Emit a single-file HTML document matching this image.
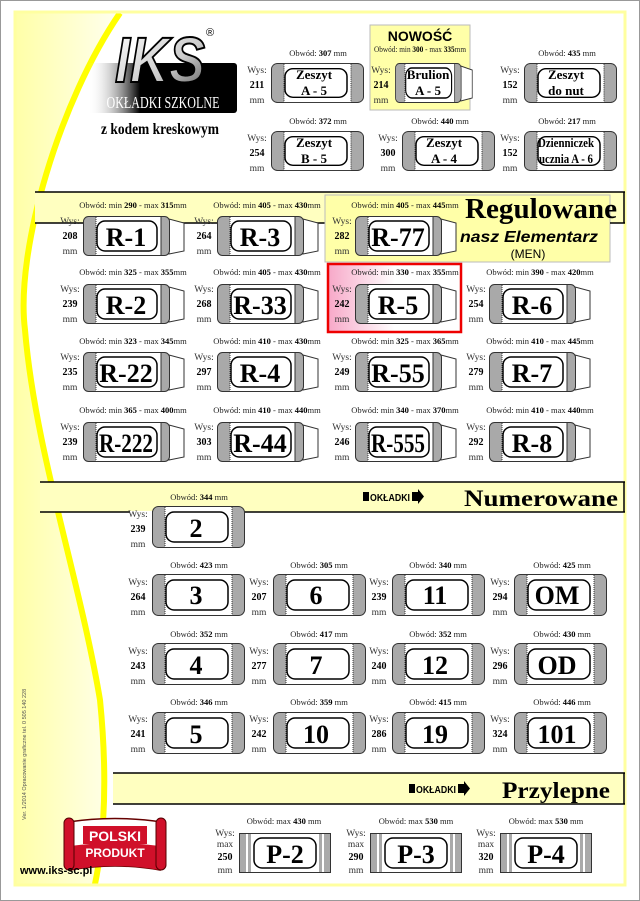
<!DOCTYPE html>
<html><head><meta charset="utf-8"><style>
html,body{margin:0;padding:0;background:#fff}
svg{display:block}
.o{font-family:"Liberation Serif",serif;font-size:8.5px;fill:#222;text-anchor:middle}
.o tspan.b{font-weight:bold;fill:#000}
.w{font-family:"Liberation Serif",serif;font-size:9.5px;fill:#333;text-anchor:middle}
.wb{font-family:"Liberation Serif",serif;font-size:10px;font-weight:bold;fill:#000;text-anchor:middle}
.big{font-family:"Liberation Serif",serif;font-size:26px;font-weight:bold;fill:#000;text-anchor:middle}
.two{font-family:"Liberation Serif",serif;font-size:13px;font-weight:bold;fill:#000;text-anchor:middle}
.hd{font-family:"Liberation Serif",serif;font-weight:bold;fill:#000}
</style></head><body>
<svg width="640" height="901" viewBox="0 0 640 901" xmlns="http://www.w3.org/2000/svg">
<defs>
<linearGradient id="ly" x1="0" y1="0" x2="1" y2="0"><stop offset="0" stop-color="#ffffa8"/><stop offset="1" stop-color="#fffff0"/></linearGradient>
<linearGradient id="lg" x1="0" y1="0" x2="1" y2="0"><stop offset="0" stop-color="#fff" stop-opacity="0"/><stop offset="0.35" stop-color="#000"/><stop offset="1" stop-color="#000"/></linearGradient>
<linearGradient id="lw" x1="0" y1="0" x2="1" y2="1"><stop offset="0" stop-color="#fff"/><stop offset="0.6" stop-color="#ccc"/><stop offset="1" stop-color="#555"/></linearGradient>
<linearGradient id="pk" x1="0" y1="0" x2="1" y2="0"><stop offset="0" stop-color="#f7a8c8"/><stop offset="0.5" stop-color="#fff"/></linearGradient>
<symbol id="rb" viewBox="0 0 102 40" width="102" height="40" preserveAspectRatio="none">
<polygon points="86,3 101,7 101,35 86,38" fill="#fff" stroke="#333" stroke-width="1"/>
<rect x="0.5" y="0.5" width="86" height="39" rx="5" fill="#a9a9a9" stroke="#333"/>
<rect x="13" y="1" width="65" height="38" fill="#fff"/>
<line x1="13" y1="1" x2="13" y2="39" stroke="#333" stroke-dasharray="1 1"/>
<line x1="78" y1="1" x2="78" y2="39" stroke="#333"/>
<rect x="14" y="5" width="60" height="30" rx="8" fill="none" stroke="#000" stroke-width="1.5"/>
</symbol>
<symbol id="nb" viewBox="0 0 93 42" width="93" height="42" preserveAspectRatio="none">
<rect x="0.5" y="0.5" width="92" height="41" rx="6" fill="#a9a9a9" stroke="#333"/>
<rect x="13" y="1" width="67" height="40" fill="#fff"/>
<line x1="13" y1="1" x2="13" y2="41" stroke="#333" stroke-dasharray="1 1"/>
<line x1="80" y1="1" x2="80" y2="41" stroke="#333" stroke-dasharray="1 1"/>
<rect x="14" y="6" width="62" height="30" rx="8" fill="none" stroke="#000" stroke-width="1.5"/>
</symbol>
<symbol id="pb" viewBox="0 0 92 40" width="92" height="40" preserveAspectRatio="none">
<rect x="0.5" y="0.5" width="91" height="39" fill="#fff" stroke="#333"/>
<rect x="1" y="1" width="6" height="38" fill="#aaa"/><rect x="9" y="1" width="3" height="38" fill="#aaa"/>
<rect x="80" y="1" width="3" height="38" fill="#aaa"/><rect x="85" y="1" width="6" height="38" fill="#aaa"/>
<rect x="15" y="5" width="62" height="30" rx="8" fill="none" stroke="#000" stroke-width="1.5"/>
</symbol>
</defs>
<rect x="0.5" y="0.5" width="639" height="900" fill="#fff" stroke="#999"/>
<path d="M16,13 L120,13 C60,100 15,250 25,330 C35,450 80,580 100,700 C110,800 100,860 95,884 L16,884 Z" fill="url(#ly)"/>
<path d="M120,13 C60,100 15,250 25,330 C35,450 80,580 100,700 C110,800 100,860 95,884" fill="none" stroke="#ffff00" stroke-width="6"/>
<rect x="15" y="12" width="610" height="873" fill="none" stroke="#ffffa0" stroke-width="3"/>

<!-- logo -->
<rect x="88" y="63" width="149" height="50" rx="3" fill="url(#lg)"/>
<text x="160" y="82" font-family="Liberation Sans,sans-serif" font-weight="bold" font-size="64" font-style="italic" style="fill:url(#lw);stroke:#000;stroke-width:2" text-anchor="middle" textLength="90" lengthAdjust="spacingAndGlyphs">IKS</text>
<text x="206" y="36" font-family="Liberation Sans,sans-serif" font-size="11" fill="#000">®</text>
<text x="163" y="108" font-family="Liberation Serif,serif" font-size="17" fill="#fff" text-anchor="middle" textLength="113" lengthAdjust="spacingAndGlyphs">OKŁADKI SZKOLNE</text>
<text x="160" y="134" class="hd" font-size="16" text-anchor="middle" textLength="118" lengthAdjust="spacingAndGlyphs">z kodem kreskowym</text>

<rect x="370" y="25" width="100" height="85" fill="#ffffa8" stroke="#bbb"/>
<text x="420" y="41" font-family="Liberation Sans,sans-serif" font-weight="bold" font-size="14" text-anchor="middle">NOWOŚĆ</text>

<text class="o" x="318" y="56">Obwód: <tspan class="b">307</tspan> mm</text>
<text class="w" x="257" y="73">Wys:</text><text class="wb" x="257" y="88">211</text><text class="w" x="257" y="103">mm</text>
<use href="#nb" x="271" y="63" width="93" height="40"/>
<text class="two" x="314" y="79">Zeszyt</text><text class="two" x="314" y="95">A - 5</text>

<text class="o" x="420" y="52" textLength="92" lengthAdjust="spacingAndGlyphs">Obwód: min <tspan class="b">300</tspan> - max <tspan class="b">335</tspan>mm</text>
<text class="w" x="381" y="73">Wys:</text><text class="wb" x="381" y="88">214</text><text class="w" x="381" y="103">mm</text>
<use href="#rb" x="395" y="63" width="78" height="40"/>
<text class="two" x="428" y="79">Brulion</text><text class="two" x="428" y="95">A - 5</text>

<text class="o" x="567" y="56">Obwód: <tspan class="b">435</tspan> mm</text>
<text class="w" x="510" y="73">Wys:</text><text class="wb" x="510" y="88">152</text><text class="w" x="510" y="103">mm</text>
<use href="#nb" x="524" y="63" width="93" height="40"/>
<text class="two" x="566" y="79">Zeszyt</text><text class="two" x="566" y="95">do nut</text>

<text class="o" x="318" y="124">Obwód: <tspan class="b">372</tspan> mm</text>
<text class="w" x="257" y="141">Wys:</text><text class="wb" x="257" y="156">254</text><text class="w" x="257" y="171">mm</text>
<use href="#nb" x="271" y="131" width="93" height="40"/>
<text class="two" x="314" y="147">Zeszyt</text><text class="two" x="314" y="163">B - 5</text>

<text class="o" x="440" y="124">Obwód: <tspan class="b">440</tspan> mm</text>
<text class="w" x="388" y="141">Wys:</text><text class="wb" x="388" y="156">300</text><text class="w" x="388" y="171">mm</text>
<use href="#nb" x="402" y="131" width="93" height="40"/>
<text class="two" x="444" y="147">Zeszyt</text><text class="two" x="444" y="163">A - 4</text>

<text class="o" x="567" y="124">Obwód: <tspan class="b">217</tspan> mm</text>
<text class="w" x="510" y="141">Wys:</text><text class="wb" x="510" y="156">152</text><text class="w" x="510" y="171">mm</text>
<use href="#nb" x="524" y="131" width="93" height="40"/>
<text class="two" x="566" y="147" font-size="11" textLength="56" lengthAdjust="spacingAndGlyphs">Dzienniczek</text><text class="two" x="566" y="163" font-size="11" textLength="54" lengthAdjust="spacingAndGlyphs">ucznia A - 6</text>

<rect x="35" y="192" width="590" height="31" fill="#ffffc0"/>
<line x1="35" y1="192" x2="625" y2="192" stroke="#000" stroke-width="1.5"/>
<line x1="35" y1="223" x2="326" y2="223" stroke="#000" stroke-width="1.5"/>
<rect x="325" y="195" width="285" height="67" fill="#ffffa8" stroke="#bbb"/>
<line x1="610" y1="223" x2="625" y2="223" stroke="#000" stroke-width="1.5"/>
<line x1="624" y1="192" x2="624" y2="223" stroke="#000" stroke-width="1.5"/>
<text x="465" y="218" class="hd" font-size="29" textLength="152" lengthAdjust="spacingAndGlyphs">Regulowane</text>
<text x="460" y="242" font-family="Liberation Sans,sans-serif" font-weight="bold" font-style="italic" font-size="16" textLength="138" lengthAdjust="spacingAndGlyphs">nasz Elementarz</text>
<text x="528" y="258" font-family="Liberation Sans,sans-serif" font-size="12" text-anchor="middle">(MEN)</text>

<rect x="328" y="264" width="133" height="68" fill="url(#pk)" stroke="#e00" stroke-width="2.5"/>

<g>
<text class="o" x="133" y="208">Obwód: min <tspan class="b">290</tspan> - max <tspan class="b">315</tspan>mm</text>
<text class="w" x="70" y="224">Wys:</text><text class="wb" x="70" y="239">208</text><text class="w" x="70" y="254">mm</text>
<use href="#rb" x="83" y="216"/><text class="big" x="126" y="246">R-1</text>

<text class="o" x="267" y="208">Obwód: min <tspan class="b">405</tspan> - max <tspan class="b">430</tspan>mm</text>
<text class="w" x="204" y="224">Wys:</text><text class="wb" x="204" y="239">264</text><text class="w" x="204" y="254">mm</text>
<use href="#rb" x="217" y="216"/><text class="big" x="260" y="246">R-3</text>

<text class="o" x="405" y="208">Obwód: min <tspan class="b">405</tspan> - max <tspan class="b">445</tspan>mm</text>
<text class="w" x="342" y="224">Wys:</text><text class="wb" x="342" y="239">282</text><text class="w" x="342" y="254">mm</text>
<use href="#rb" x="355" y="216"/><text class="big" x="398" y="246">R-77</text>

<text class="o" x="133" y="275">Obwód: min <tspan class="b">325</tspan> - max <tspan class="b">355</tspan>mm</text>
<text class="w" x="70" y="292">Wys:</text><text class="wb" x="70" y="307">239</text><text class="w" x="70" y="322">mm</text>
<use href="#rb" x="83" y="284"/><text class="big" x="126" y="314">R-2</text>

<text class="o" x="267" y="275">Obwód: min <tspan class="b">405</tspan> - max <tspan class="b">430</tspan>mm</text>
<text class="w" x="204" y="292">Wys:</text><text class="wb" x="204" y="307">268</text><text class="w" x="204" y="322">mm</text>
<use href="#rb" x="217" y="284"/><text class="big" x="260" y="314">R-33</text>

<text class="o" x="405" y="275">Obwód: min <tspan class="b">330</tspan> - max <tspan class="b">355</tspan>mm</text>
<text class="w" x="342" y="292">Wys:</text><text class="wb" x="342" y="307">242</text><text class="w" x="342" y="322">mm</text>
<use href="#rb" x="355" y="284"/><text class="big" x="398" y="314">R-5</text>

<text class="o" x="540" y="275">Obwód: min <tspan class="b">390</tspan> - max <tspan class="b">420</tspan>mm</text>
<text class="w" x="476" y="292">Wys:</text><text class="wb" x="476" y="307">254</text><text class="w" x="476" y="322">mm</text>
<use href="#rb" x="489" y="284"/><text class="big" x="532" y="314">R-6</text>

<text class="o" x="133" y="344">Obwód: min <tspan class="b">323</tspan> - max <tspan class="b">345</tspan>mm</text>
<text class="w" x="70" y="360">Wys:</text><text class="wb" x="70" y="375">235</text><text class="w" x="70" y="390">mm</text>
<use href="#rb" x="83" y="352"/><text class="big" x="126" y="382">R-22</text>

<text class="o" x="267" y="344">Obwód: min <tspan class="b">410</tspan> - max <tspan class="b">430</tspan>mm</text>
<text class="w" x="204" y="360">Wys:</text><text class="wb" x="204" y="375">297</text><text class="w" x="204" y="390">mm</text>
<use href="#rb" x="217" y="352"/><text class="big" x="260" y="382">R-4</text>

<text class="o" x="405" y="344">Obwód: min <tspan class="b">325</tspan> - max <tspan class="b">365</tspan>mm</text>
<text class="w" x="342" y="360">Wys:</text><text class="wb" x="342" y="375">249</text><text class="w" x="342" y="390">mm</text>
<use href="#rb" x="355" y="352"/><text class="big" x="398" y="382">R-55</text>

<text class="o" x="540" y="344">Obwód: min <tspan class="b">410</tspan> - max <tspan class="b">445</tspan>mm</text>
<text class="w" x="476" y="360">Wys:</text><text class="wb" x="476" y="375">279</text><text class="w" x="476" y="390">mm</text>
<use href="#rb" x="489" y="352"/><text class="big" x="532" y="382">R-7</text>

<text class="o" x="133" y="413">Obwód: min <tspan class="b">365</tspan> - max <tspan class="b">400</tspan>mm</text>
<text class="w" x="70" y="430">Wys:</text><text class="wb" x="70" y="445">239</text><text class="w" x="70" y="460">mm</text>
<use href="#rb" x="83" y="422"/><text class="big" x="126" y="452" textLength="54" lengthAdjust="spacingAndGlyphs">R-222</text>

<text class="o" x="267" y="413">Obwód: min <tspan class="b">410</tspan> - max <tspan class="b">440</tspan>mm</text>
<text class="w" x="204" y="430">Wys:</text><text class="wb" x="204" y="445">303</text><text class="w" x="204" y="460">mm</text>
<use href="#rb" x="217" y="422"/><text class="big" x="260" y="452">R-44</text>

<text class="o" x="405" y="413">Obwód: min <tspan class="b">340</tspan> - max <tspan class="b">370</tspan>mm</text>
<text class="w" x="342" y="430">Wys:</text><text class="wb" x="342" y="445">246</text><text class="w" x="342" y="460">mm</text>
<use href="#rb" x="355" y="422"/><text class="big" x="398" y="452" textLength="54" lengthAdjust="spacingAndGlyphs">R-555</text>

<text class="o" x="540" y="413">Obwód: min <tspan class="b">410</tspan> - max <tspan class="b">440</tspan>mm</text>
<text class="w" x="476" y="430">Wys:</text><text class="wb" x="476" y="445">292</text><text class="w" x="476" y="460">mm</text>
<use href="#rb" x="489" y="422"/><text class="big" x="532" y="452">R-8</text>
</g>

<rect x="40" y="482" width="585" height="30" fill="#ffffc0"/>
<line x1="40" y1="482" x2="625" y2="482" stroke="#000" stroke-width="1.5"/>
<line x1="40" y1="512" x2="625" y2="512" stroke="#000" stroke-width="1.5"/>
<line x1="624" y1="482" x2="624" y2="512" stroke="#000" stroke-width="1.5"/>
<rect x="363" y="492" width="6" height="9" fill="#000"/>
<text x="370" y="501" font-family="Liberation Sans,sans-serif" font-weight="bold" font-size="10" textLength="40" lengthAdjust="spacingAndGlyphs">OKŁADKI</text>
<path d="M412,492 h6 v-3 l6,7.5 l-6,7.5 v-3 h-6 z" fill="#000"/>
<text x="464" y="506" class="hd" font-size="23" textLength="154" lengthAdjust="spacingAndGlyphs">Numerowane</text>

<g>
<rect x="130" y="511" width="22" height="40" fill="#fff"/>
<text class="o" x="199" y="500">Obwód: <tspan class="b">344</tspan> mm</text>
<text class="w" x="138" y="517">Wys:</text><text class="wb" x="138" y="532">239</text><text class="w" x="138" y="547">mm</text>
<use href="#nb" x="152" y="506"/><text class="big" x="196" y="537">2</text>

<text class="o" x="199" y="568">Obwód: <tspan class="b">423</tspan> mm</text>
<text class="w" x="138" y="585">Wys:</text><text class="wb" x="138" y="600">264</text><text class="w" x="138" y="615">mm</text>
<use href="#nb" x="152" y="574"/><text class="big" x="196" y="604">3</text>

<text class="o" x="319" y="568">Obwód: <tspan class="b">305</tspan> mm</text>
<text class="w" x="259" y="585">Wys:</text><text class="wb" x="259" y="600">207</text><text class="w" x="259" y="615">mm</text>
<use href="#nb" x="273" y="574"/><text class="big" x="316" y="604">6</text>

<text class="o" x="438" y="568">Obwód: <tspan class="b">340</tspan> mm</text>
<text class="w" x="379" y="585">Wys:</text><text class="wb" x="379" y="600">239</text><text class="w" x="379" y="615">mm</text>
<use href="#nb" x="392" y="574"/><text class="big" x="435" y="604">11</text>

<text class="o" x="562" y="568">Obwód: <tspan class="b">425</tspan> mm</text>
<text class="w" x="500" y="585">Wys:</text><text class="wb" x="500" y="600">294</text><text class="w" x="500" y="615">mm</text>
<use href="#nb" x="514" y="574"/><text class="big" x="557" y="604">OM</text>

<text class="o" x="199" y="637">Obwód: <tspan class="b">352</tspan> mm</text>
<text class="w" x="138" y="654">Wys:</text><text class="wb" x="138" y="669">243</text><text class="w" x="138" y="684">mm</text>
<use href="#nb" x="152" y="643"/><text class="big" x="196" y="674">4</text>

<text class="o" x="319" y="637">Obwód: <tspan class="b">417</tspan> mm</text>
<text class="w" x="259" y="654">Wys:</text><text class="wb" x="259" y="669">277</text><text class="w" x="259" y="684">mm</text>
<use href="#nb" x="273" y="643"/><text class="big" x="316" y="674">7</text>

<text class="o" x="438" y="637">Obwód: <tspan class="b">352</tspan> mm</text>
<text class="w" x="379" y="654">Wys:</text><text class="wb" x="379" y="669">240</text><text class="w" x="379" y="684">mm</text>
<use href="#nb" x="392" y="643"/><text class="big" x="435" y="674">12</text>

<text class="o" x="562" y="637">Obwód: <tspan class="b">430</tspan> mm</text>
<text class="w" x="500" y="654">Wys:</text><text class="wb" x="500" y="669">296</text><text class="w" x="500" y="684">mm</text>
<use href="#nb" x="514" y="643"/><text class="big" x="557" y="674">OD</text>

<text class="o" x="199" y="705">Obwód: <tspan class="b">346</tspan> mm</text>
<text class="w" x="138" y="722">Wys:</text><text class="wb" x="138" y="737">241</text><text class="w" x="138" y="752">mm</text>
<use href="#nb" x="152" y="712"/><text class="big" x="196" y="743">5</text>

<text class="o" x="319" y="705">Obwód: <tspan class="b">359</tspan> mm</text>
<text class="w" x="259" y="722">Wys:</text><text class="wb" x="259" y="737">242</text><text class="w" x="259" y="752">mm</text>
<use href="#nb" x="273" y="712"/><text class="big" x="316" y="743">10</text>

<text class="o" x="438" y="705">Obwód: <tspan class="b">415</tspan> mm</text>
<text class="w" x="379" y="722">Wys:</text><text class="wb" x="379" y="737">286</text><text class="w" x="379" y="752">mm</text>
<use href="#nb" x="392" y="712"/><text class="big" x="435" y="743">19</text>

<text class="o" x="562" y="705">Obwód: <tspan class="b">446</tspan> mm</text>
<text class="w" x="500" y="722">Wys:</text><text class="wb" x="500" y="737">324</text><text class="w" x="500" y="752">mm</text>
<use href="#nb" x="514" y="712"/><text class="big" x="557" y="743">101</text>
</g>

<rect x="113" y="773" width="512" height="31" fill="#ffffc0"/>
<line x1="113" y1="773" x2="625" y2="773" stroke="#000" stroke-width="1.5"/>
<line x1="113" y1="804" x2="625" y2="804" stroke="#000" stroke-width="1.5"/>
<line x1="624" y1="773" x2="624" y2="804" stroke="#000" stroke-width="1.5"/>
<rect x="409" y="784" width="6" height="9" fill="#000"/>
<text x="416" y="793" font-family="Liberation Sans,sans-serif" font-weight="bold" font-size="10" textLength="40" lengthAdjust="spacingAndGlyphs">OKŁADKI</text>
<path d="M458,784 h6 v-3 l6,7.5 l-6,7.5 v-3 h-6 z" fill="#000"/>
<text x="502" y="798" class="hd" font-size="23" textLength="108" lengthAdjust="spacingAndGlyphs">Przylepne</text>

<text class="o" x="284" y="824">Obwód: max <tspan class="b">430</tspan> mm</text>
<text class="w" x="225" y="836" font-size="8.5">Wys:</text><text class="w" x="225" y="847" font-size="8.5">max</text><text class="wb" x="225" y="860">250</text><text class="w" x="225" y="873">mm</text>
<use href="#pb" x="239" y="833" width="92" height="40"/><text class="big" x="285" y="863">P-2</text>

<text class="o" x="416" y="824">Obwód: max <tspan class="b">530</tspan> mm</text>
<text class="w" x="356" y="836" font-size="8.5">Wys:</text><text class="w" x="356" y="847" font-size="8.5">max</text><text class="wb" x="356" y="860">290</text><text class="w" x="356" y="873">mm</text>
<use href="#pb" x="370" y="833" width="92" height="40"/><text class="big" x="416" y="863">P-3</text>

<text class="o" x="546" y="824">Obwód: max <tspan class="b">530</tspan> mm</text>
<text class="w" x="486" y="836" font-size="8.5">Wys:</text><text class="w" x="486" y="847" font-size="8.5">max</text><text class="wb" x="486" y="860">320</text><text class="w" x="486" y="873">mm</text>
<use href="#pb" x="500" y="833" width="92" height="40"/><text class="big" x="546" y="863">P-4</text>

<path d="M68,822 Q115,815 162,822 L160,870 Q115,862 70,870 Z" fill="#fff" stroke="#600" stroke-width="1.5"/>
<path d="M70,846 Q115,840 160,846 L160,870 Q115,862 70,870 Z" fill="#d0102a"/>
<rect x="64" y="818" width="10" height="52" rx="5" fill="#d0102a" stroke="#500"/>
<rect x="156" y="818" width="10" height="52" rx="5" fill="#d0102a" stroke="#500"/>
<rect x="83" y="826" width="64" height="18" fill="#d0102a"/>
<text x="115" y="841" font-family="Liberation Sans,sans-serif" font-weight="bold" font-size="14" fill="#fff" text-anchor="middle">POLSKI</text>
<text x="115" y="857" font-family="Liberation Sans,sans-serif" font-weight="bold" font-size="12" fill="#fff" text-anchor="middle">PRODUKT</text>
<text x="20" y="874" font-family="Liberation Sans,sans-serif" font-weight="bold" font-size="11" fill="#000">www.iks-sc.pl</text>
<text transform="translate(26,820) rotate(-90)" font-family="Liberation Sans,sans-serif" font-size="5.5" fill="#555">Ver. 1/2014 Opracowanie graficzne  tel. 0 505 140 228</text>
</svg>
</body></html>
